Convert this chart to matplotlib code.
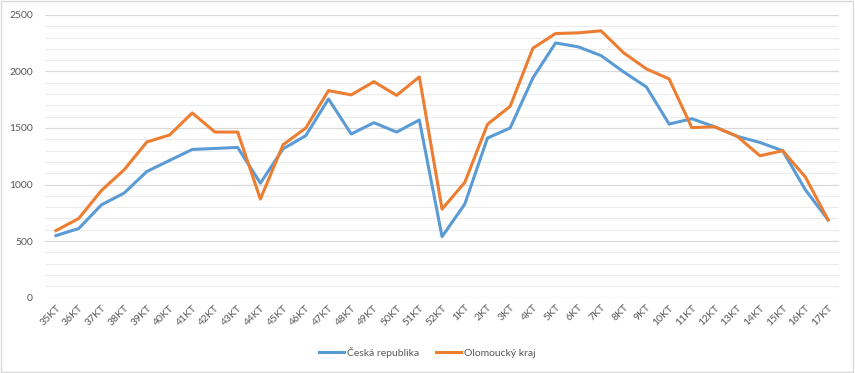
#!/usr/bin/env python3
import matplotlib
matplotlib.use("Agg")
import matplotlib.pyplot as plt
from matplotlib.patches import Rectangle
from matplotlib.ticker import MultipleLocator

weeks = [f"{w}KT" for w in range(35, 53)] + [f"{w}KT" for w in range(1, 18)]

cr = [548, 610, 820, 924, 1115, 1213, 1310, 1319, 1328, 1012,
      1316, 1432, 1757, 1447, 1547, 1464, 1571, 539, 826, 1411,
      1500, 1943, 2253, 2218, 2141, 1996, 1863, 1535, 1582, 1511,
      1426, 1372, 1299, 953, 687]
olk = [592, 699, 947, 1130, 1376, 1438, 1633, 1464, 1464, 871,
       1352, 1500, 1831, 1793, 1910, 1789, 1952, 782, 1018, 1532,
       1692, 2206, 2336, 2342, 2360, 2165, 2023, 1934, 1503, 1511,
       1426, 1254, 1299, 1066, 687]

plt.rcParams["font.family"] = ["Lato", "DejaVu Sans"]

fig = plt.figure(figsize=(8.55, 3.73), dpi=100)
ax = fig.add_axes([0.0522, 0.2024, 0.9296, 0.7574])

x = list(range(len(weeks)))
ax.plot(x, cr, color="#5B9BD5", lw=2.2, label="Česká republika", solid_joinstyle="round")
ax.plot(x, olk, color="#ED7D31", lw=2.2, label="Olomoucký kraj", solid_joinstyle="round")

ax.set_xlim(-0.5, len(weeks) - 0.5)
ax.set_ylim(0, 2500)
ax.yaxis.set_major_locator(MultipleLocator(500))
ax.yaxis.set_minor_locator(MultipleLocator(100))
ax.grid(axis="y", which="major", color="#d9d9d9", lw=0.9)
ax.grid(axis="y", which="minor", color="#ececec", lw=0.8)
ax.set_axisbelow(True)
for s in ax.spines.values():
    s.set_visible(False)

ax.set_xticks(x)
ax.set_xticklabels(weeks, rotation=45, ha="right", rotation_mode="anchor")
ax.tick_params(axis="both", which="both", length=0, labelsize=7.5, colors="#595959")
ax.tick_params(axis="x", pad=4)
ax.tick_params(axis="y", pad=8.5)

fig.legend(loc="center", bbox_to_anchor=(0.5, 0.055), ncol=2, frameon=False,
           fontsize=7.5, handlelength=2.4, columnspacing=1.6, handletextpad=0.3,
           labelcolor="#595959")

fig.patches.append(Rectangle((0.001, 0.002), 0.997, 0.995, transform=fig.transFigure,
                             fill=False, edgecolor="#d9d9d9", lw=1))

fig.savefig("out.png", dpi=100)
